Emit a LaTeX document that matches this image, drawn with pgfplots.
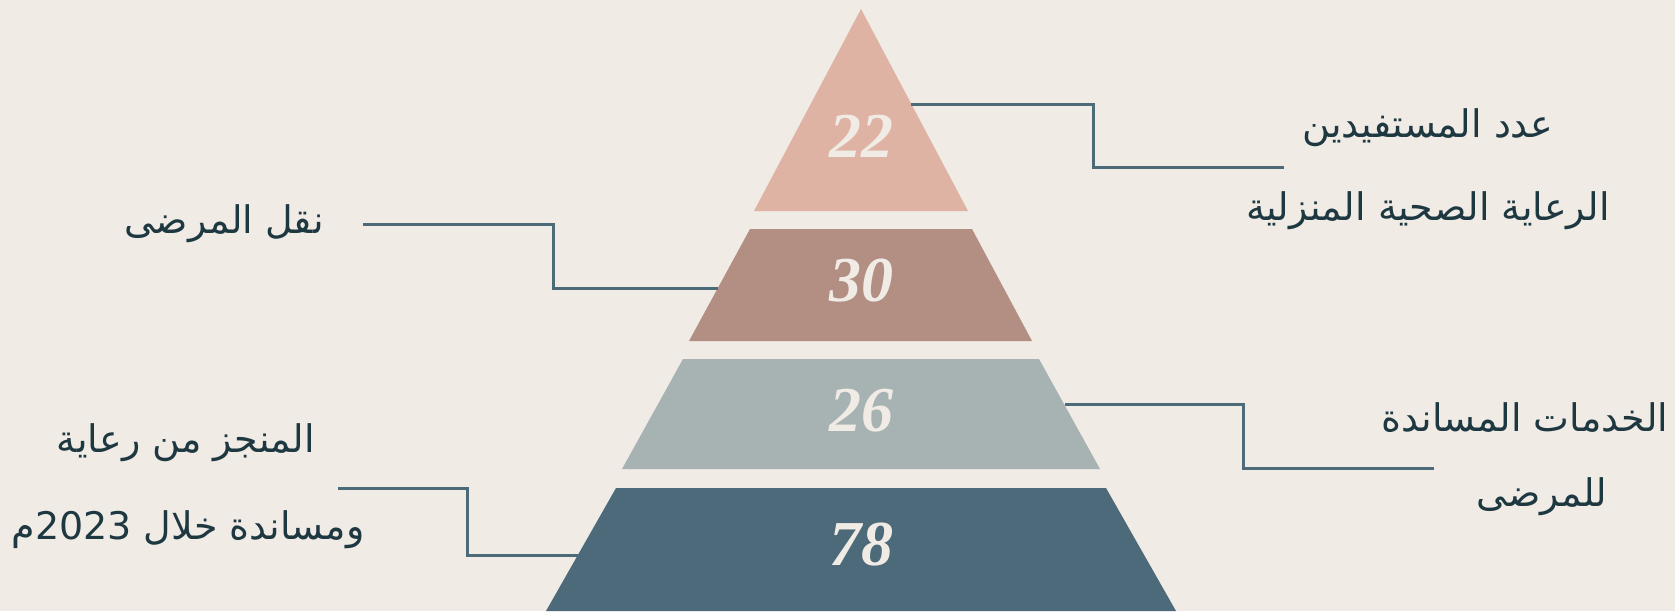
\documentclass[border=0pt]{standalone}
\usepackage{fontspec}
\usepackage{pgfplots}
\pgfplotsset{compat=1.18}
\TeXXeTstate=1
\newfontfamily\arabicfont[Script=Arabic]{DejaVu Sans}
\newfontfamily\numfont{Liberation Serif}
\definecolor{bg}{HTML}{F0EBE5}
\definecolor{c1}{HTML}{DFB3A4}
\definecolor{c2}{HTML}{B38F83}
\definecolor{c3}{HTML}{A7B3B2}
\definecolor{c4}{HTML}{4C6A79}
\definecolor{linec}{HTML}{4D6A78}
\definecolor{txt}{HTML}{1E3841}
\tikzset{lab/.style={text=txt, font=\arabicfont\fontsize{19}{23}\selectfont},
  num/.style={text=bg, font=\numfont\bfseries\itshape\fontsize{32}{36}\selectfont}}
\begin{document}
\begin{tikzpicture}
\begin{axis}[hide axis, scale only axis, width=837.5pt, height=305.5pt,
  xmin=0, xmax=1675, ymin=0, ymax=611, y dir=reverse, clip=false]
\fill[bg] (axis cs:0,0) rectangle (axis cs:1675,611);
% pyramid layers
\addplot[draw=none, fill=c1] coordinates {(861,9) (968,211) (754,211)} --cycle;
\addplot[draw=none, fill=c2] coordinates {(750,229) (972,229) (1032,341) (689,341)} --cycle;
\addplot[draw=none, fill=c3] coordinates {(683,359) (1039,359) (1100,469) (622,469)} --cycle;
\addplot[draw=none, fill=c4] coordinates {(616,488) (1106,488) (1176,611) (546,611)} --cycle;
% connectors
\addplot[linec, line width=1.5pt, no marks] coordinates {(911,104) (1093,104) (1093,167) (1284,167)};
\addplot[linec, line width=1.5pt, no marks] coordinates {(363,224) (553,224) (553,288) (718,288)};
\addplot[linec, line width=1.5pt, no marks] coordinates {(1065,404) (1243,404) (1243,468) (1434,468)};
\addplot[linec, line width=1.5pt, no marks] coordinates {(338,488) (467,488) (467,555) (578,555)};
% values
\node[num] at (axis cs:861,136) {22};
\node[num] at (axis cs:861,281) {30};
\node[num] at (axis cs:861,411) {26};
\node[num] at (axis cs:861,545) {78};
% labels
\node[lab] at (axis cs:1428,128) {\beginR عدد المستفيدين\endR};
\node[lab] at (axis cs:1428,211) {\beginR الرعاية الصحية المنزلية\endR};
\node[lab] at (axis cs:224,224) {\beginR نقل المرضى\endR};
\node[lab] at (axis cs:1525,418) {\beginR الخدمات المساندة\endR};
\node[lab] at (axis cs:1542,497) {\beginR للمرضى\endR};
\node[lab] at (axis cs:186,443) {\beginR المنجز من رعاية\endR};
\node[lab] at (axis cs:188,530) {\beginR ومساندة خلال \beginL 2023\endL{}م\endR};
\end{axis}
\pgfresetboundingbox
\path[use as bounding box] (current axis.south west) rectangle (current axis.north east);
\end{tikzpicture}
\end{document}
